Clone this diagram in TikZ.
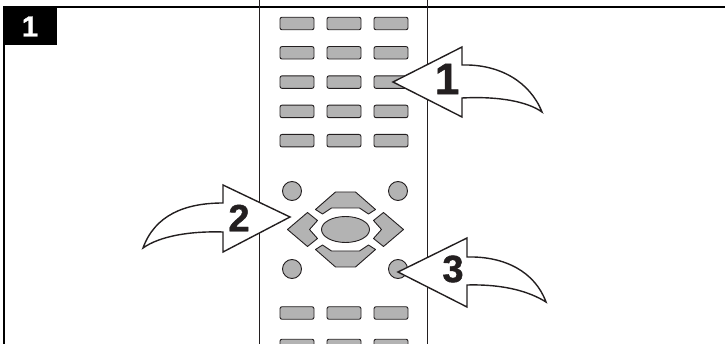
\documentclass[tikz,border=0pt]{standalone}
\usepackage{fontspec}
\setmainfont{Liberation Sans}
\newfontfamily\heavyfont[FakeBold=1.2]{Liberation Sans Bold}
\usetikzlibrary{positioning, shapes.geometric}
\definecolor{keygray}{HTML}{B3B3B3}
\definecolor{ink}{HTML}{231F20}
\tikzset{
  keybtn/.style   = {rectangle, rounded corners=2pt, draw=ink, line width=0.9pt,
                     fill=keygray, minimum width=34pt, minimum height=12.5pt,
                     inner sep=0pt},
  roundbtn/.style = {circle, draw=ink, line width=0.9pt, fill=keygray,
                     minimum size=19pt, inner sep=0pt},
  padkey/.style   = {draw=ink, line width=0.9pt, fill=keygray, line join=round},
  callout/.style  = {draw=ink, line width=1.4pt, fill=white, line join=miter},
  num/.style      = {font=\heavyfont\fontsize{38}{38}\selectfont, text=ink,
                     inner sep=0pt},
  badge/.style    = {rectangle, fill=black, text=white, inner sep=0pt,
                     minimum width=54pt, minimum height=37pt,
                     font=\heavyfont\fontsize{29}{29}\selectfont},
}

\begin{document}
\begin{tikzpicture}[x=1pt, y=-1pt]
  \useasboundingbox (0,0) rectangle (725,344);

  % frame
  \draw[line width=2pt] (3,7.5) -- (725,7.5);
  \draw[line width=2pt] (4,7) -- (4,344);
  \node[badge] (badge) at (30,26.5) {1};

  % remote body
  \draw[ink, line width=1pt] (259,0) -- (259,344);
  \draw[ink, line width=1pt] (427,0) -- (427,344);

  \foreach \y [count=\r] in {23.5,52.8,82.1,111.4,140.7,313,345.5}
    \foreach \x [count=\c] in {297,344,391}
      \node[keybtn] (key-\r-\c) at (\x,\y) {};

  \node[roundbtn] (dot-nw) at (292,191) {};
  \node[roundbtn] (dot-ne) at (398,191) {};
  \node[roundbtn] (dot-sw) at (292,269) {};
  \node[roundbtn] (dot-se) at (398,269) {};

  % direction pad
  \begin{scope}[shift={(345.5,229.5)}]
    \foreach \s in {1,-1} {
      \draw[padkey, yscale=\s] (-30,-20) -- (-10,-37.5) -- (10,-37.5) -- (30,-20)
        -- (23,-15.5) -- (14,-21.5) -- (-14,-21.5) -- (-23,-15.5) -- cycle;
      \draw[padkey, xscale=\s] (-58,0) -- (-38,-17) -- (-28,-9) -- (-36,0)
        -- (-28,9) -- (-38,17) -- cycle;
    }
    \node[draw=ink, line width=0.9pt, fill=keygray, ellipse, minimum width=48pt,
          minimum height=26pt, inner sep=0pt] (ok) at (0,0) {};
  \end{scope}

  % callout arrows
  \draw[callout] (393,82) -- (462,47) -- (462,65)
    .. controls (500,64) and (530,82) .. (542,112)
    .. controls (528,102) and (500,96) .. (462,98) -- (462,117) -- cycle;
  \draw[callout] (290,217) -- (223,185) -- (223,203)
    .. controls (185,203) and (155,215) .. (143,248)
    .. controls (160,236) and (190,231) .. (223,232) -- (223,252) -- cycle;
  \draw[callout] (398,272) -- (467,238) -- (467,257)
    .. controls (505,256) and (535,272) .. (546,302)
    .. controls (530,292) and (505,284) .. (467,285) -- (467,307) -- cycle;

  \node[num, font=\heavyfont\fontsize{44}{44}\selectfont] (n1) at (447,79) {1};
  \node[num] (n2) at (239,218) {2};
  \node[num] (n3) at (453,269) {3};
\end{tikzpicture}
\end{document}
